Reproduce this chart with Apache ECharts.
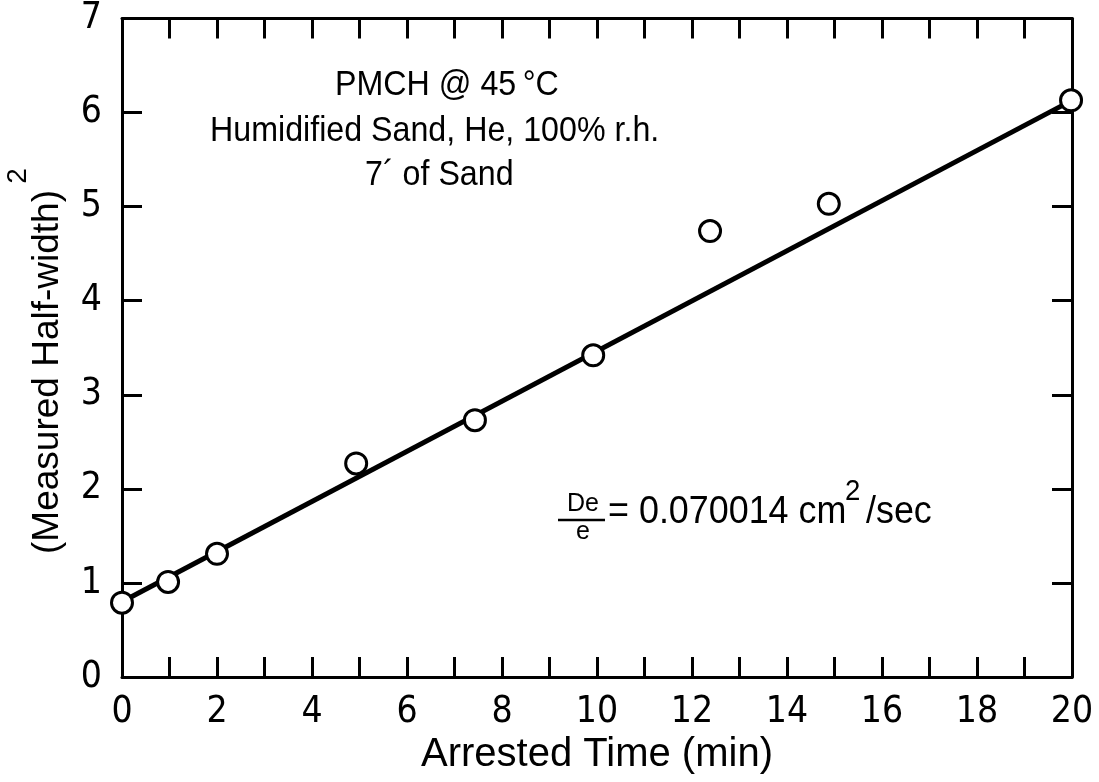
<!DOCTYPE html>
<html lang="en">
<head>
<meta charset="UTF-8" />
<script src="https://cdn.jsdelivr.net/npm/echarts@6/dist/echarts.min.js"></script>
<style>
  html, body { margin: 0; padding: 0; background: #fff; }
  #main { width: 1099px; height: 782px; }
</style>
</head>
<body>
<div id="main"></div>
<script type="text/javascript">
  // measured points
  var timeMin = [0, 0.97, 2.0, 4.93, 7.43, 9.92, 12.38, 14.88, 19.98];
  var halfWidthSq = [0.79, 1.01, 1.31, 2.27, 2.73, 3.42, 4.74, 5.03, 6.13];
  // fitted straight line, end points
  var fitX = [0, 20];
  var fitY = [0.80, 6.13];
  var xTicks = [0, 2, 4, 6, 8, 10, 12, 14, 16, 18, 20];
  var yTicks = [0, 1, 2, 3, 4, 5, 6, 7];

  var narrow = '"Liberation Sans Narrow", "DejaVu Sans Condensed", sans-serif';
  var sans = '"Liberation Sans", Arial, sans-serif';

  var points = timeMin.map(function (t, i) { return [t, halfWidthSq[i]]; });
  var fit = fitX.map(function (t, i) { return [t, fitY[i]]; });

  var myChart = echarts.init(document.getElementById('main'));

  var tickStyle = { color: '#000', width: 3 };
  function xAx(pos, showLabel) {
    return {
      type: 'value', position: pos,
      min: xTicks[0], max: xTicks[xTicks.length - 1], interval: 2,
      axisLine: { show: true, onZero: false, lineStyle: { color: '#000', width: 3 } },
      axisTick: { show: true, inside: true, length: 20, lineStyle: tickStyle },
      minorTick: { show: true, splitNumber: 2, length: 20, lineStyle: tickStyle },
      splitLine: { show: false },
      axisLabel: { show: showLabel, color: '#000', fontFamily: narrow, fontSize: 37, margin: 17 }
    };
  }
  function yAx(pos, showLabel) {
    return {
      type: 'value', position: pos,
      min: yTicks[0], max: yTicks[yTicks.length - 1], interval: 1,
      axisLine: { show: true, onZero: false, lineStyle: { color: '#000', width: 3 } },
      axisTick: { show: true, inside: true, length: 20, lineStyle: tickStyle },
      splitLine: { show: false },
      axisLabel: { show: showLabel, color: '#000', fontFamily: narrow, fontSize: 37, margin: 20 }
    };
  }

  var option = {
    backgroundColor: '#fff',
    animation: false,
    grid: { left: 122, right: 27, top: 16, bottom: 105 },
    xAxis: [xAx('bottom', true), xAx('top', false)],
    yAxis: [yAx('left', true), yAx('right', false)],
    series: [
      {
        type: 'line', data: fit, symbol: 'none', z: 2,
        lineStyle: { color: '#000', width: 5 }
      },
      {
        type: 'scatter', data: points, symbol: 'circle', symbolSize: 21, z: 3,
        itemStyle: { color: '#fff', borderColor: '#000', borderWidth: 3, opacity: 1 }
      }
    ],
    graphic: [
      { type: 'text', x: 597, y: 755, style: { text: 'Arrested Time (min)', font: '40px ' + sans, fill: '#000', align: 'center', verticalAlign: 'middle' } },
      { type: 'text', x: 48, y: 372, rotation: Math.PI / 2, style: { text: '(Measured Half-width)', font: '37px ' + sans, fill: '#000', align: 'center', verticalAlign: 'middle' } },
      { type: 'text', x: 18, y: 176, rotation: Math.PI / 2, style: { text: '2', font: '28px ' + sans, fill: '#000', align: 'center', verticalAlign: 'middle' } },

      { type: 'text', x: 335, y: 85, scaleX: 0.92, style: { text: 'PMCH @ 45\u2009°C', font: '35px ' + sans, fill: '#000', align: 'left', verticalAlign: 'middle' } },
      { type: 'text', x: 210, y: 131, scaleX: 0.92, style: { text: 'Humidified Sand, He, 100% r.h.', font: '35px ' + sans, fill: '#000', align: 'left', verticalAlign: 'middle' } },
      { type: 'text', x: 365, y: 175, scaleX: 0.92, style: { text: '7\u00b4 of Sand', font: '35px ' + sans, fill: '#000', align: 'left', verticalAlign: 'middle' } },

      { type: 'text', x: 583, y: 504, style: { text: 'De', font: '25px ' + sans, fill: '#000', align: 'center', verticalAlign: 'middle' } },
      { type: 'line', shape: { x1: 558, y1: 520, x2: 605, y2: 520 }, style: { stroke: '#000', lineWidth: 2.5 } },
      { type: 'text', x: 583, y: 532, style: { text: 'e', font: '25px ' + sans, fill: '#000', align: 'center', verticalAlign: 'middle' } },
      { type: 'text', x: 608, y: 512, scaleX: 0.92, style: { text: '= 0.070014 cm', font: '39px ' + sans, fill: '#000', align: 'left', verticalAlign: 'middle' } },
      { type: 'text', x: 845, y: 492, scaleX: 0.92, style: { text: '2', font: '30px ' + sans, fill: '#000', align: 'left', verticalAlign: 'middle' } },
      { type: 'text', x: 866, y: 512, scaleX: 0.92, style: { text: '/sec', font: '39px ' + sans, fill: '#000', align: 'left', verticalAlign: 'middle' } }
    ]
  };

  myChart.setOption(option);
</script>
</body>
</html>
